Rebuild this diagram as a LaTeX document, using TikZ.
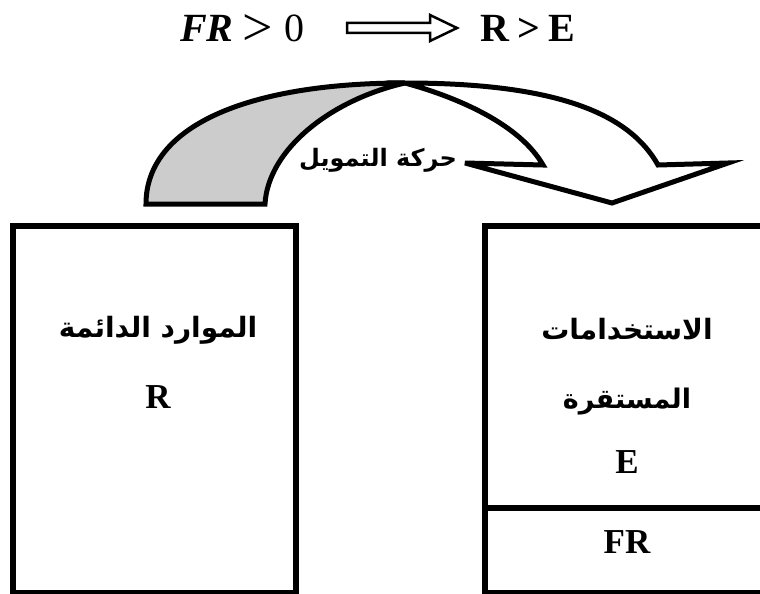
\documentclass[tikz,border=0pt]{standalone}
\usepackage{graphicx}
\usepackage{fontspec}
\setmainfont{Liberation Serif}
\newfontfamily\arabicfont[Script=Arabic]{DejaVu Sans}
\TeXXeTstate=1
\usetikzlibrary{calc}
\definecolor{shadegray}{HTML}{CCCCCC}
\begin{document}
\begin{tikzpicture}[x=1pt,y=-1pt,
  frame/.style={draw, line width=6pt, inner sep=0pt, outer sep=0pt},
  arrowline/.style={line width=5pt, line join=miter, miter limit=8},
  artext/.style={font=\arabicfont\bfseries\fontsize{28}{32}\selectfont, inner sep=0pt, anchor=base},
  lattext/.style={font=\bfseries\fontsize{35}{40}\selectfont, inner sep=0pt, anchor=base},
  titletext/.style={font=\fontsize{40}{46}\selectfont, inner sep=0pt, anchor=base west}]
\useasboundingbox (0,0) rectangle (760,594);
% boxes
\node[frame, minimum width=283pt, minimum height=367pt] (res) at (154.5,409.5) {};
\node[frame, minimum width=290pt, minimum height=282pt] (use) at (630,367) {};
\node[frame, minimum width=290pt, minimum height=85pt] (frcell) at (630,550.5) {};
% labels in boxes
\node[artext] (reslabel) at (158,337) {\beginR الموارد الدائمة\endR};
\node[lattext] (rlabel) at (158,408) {R};
\node[artext] (uselabelA) at (627,339) {\beginR الاستخدامات\endR};
\node[artext, font=\arabicfont\bfseries\fontsize{27}{32}\selectfont] (uselabelB) at (627,408) {\beginR المستقرة\endR};
\node[lattext] (elabel) at (627,473) {E};
\node[lattext] (frlabel) at (627,553) {FR};
% curved arrow: grey underside
\fill[shadegray] (146,204) .. controls (146,125) and (250,83) .. (405,83)
  .. controls (330,100) and (268,150) .. (265,204) -- cycle;
\draw[arrowline] (146,204) .. controls (146,125) and (250,83) .. (405,83)
  .. controls (330,100) and (268,150) .. (265,204) -- cycle;
% curved arrow: white upper face and head
\draw[arrowline, fill=white] (405,83) .. controls (560,83) and (630,115) .. (658,165)
  -- (728,163) -- (612,203) -- (465,163) -- (543,165)
  .. controls (520,125) and (460,98) .. (405,83) -- cycle;
\node[artext, font=\arabicfont\bfseries\fontsize{24}{28}\selectfont] (flowlabel) at (378,166) {\beginR حركة التمويل\endR};
% title
\node[titletext] (tleft) at (180,42) {{\bfseries\itshape FR}\hspace{9pt}\raisebox{-4pt}{\scalebox{1.35}{>}}\hspace{11pt}0};
\node[titletext, font=\bfseries\fontsize{40}{46}\selectfont] (tright) at (480,42) {R\hspace{8pt}>\hspace{9pt}E};
\coordinate (ia) at (347,28);
\coordinate (ib) at (457,28);
\draw[line width=2.5pt, line join=miter] ($(ia)+(0,-5)$) -- ($(ib)+(-27,-5)$) -- ($(ib)+(-27,-13)$)
  -- (ib) -- ($(ib)+(-27,13)$) -- ($(ib)+(-27,5)$) -- ($(ia)+(0,5)$) -- cycle;
\end{tikzpicture}
\end{document}
